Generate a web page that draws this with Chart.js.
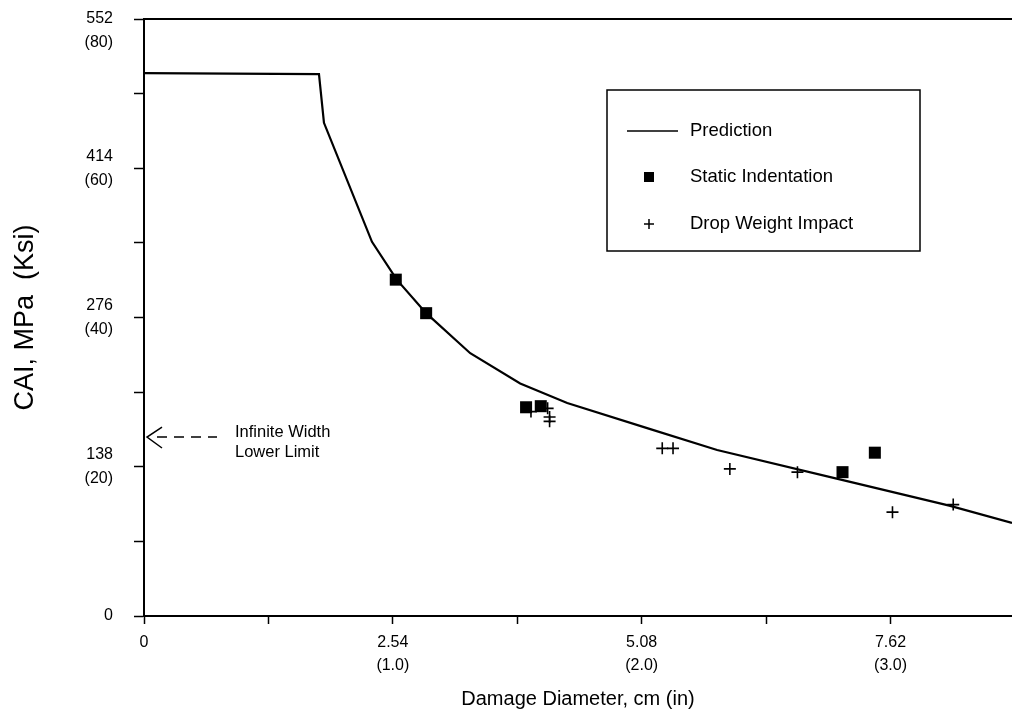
<!DOCTYPE html>
<html><head><meta charset="utf-8">
<script src="https://cdn.jsdelivr.net/npm/chart.js@4.4.0/dist/chart.umd.min.js"></script>
<style>html,body{margin:0;padding:0;background:#fff;}canvas{display:block;}</style>
</head><body>
<canvas id="c" width="1012" height="719"></canvas>
<script>
// ---- data (cm, MPa) ----
const predictionX = [0, 1.786, 1.837, 2.327, 2.58, 2.88, 3.33, 3.84, 4.32, 5.16, 5.85, 7.07, 8.22, 8.86];
const predictionY = [502, 501, 456, 346, 311, 280, 243, 215, 197, 173, 153.5, 127, 102, 86];
const staticX = [2.57, 2.88, 3.90, 4.05, 7.13, 7.46];
const staticY = [311, 280, 193, 194, 133, 151];
const dropX = [3.95, 4.12, 4.14, 4.14, 5.29, 5.40, 5.98, 6.67, 7.64, 8.26];
const dropY = [189, 192, 184, 180, 155, 155, 136, 133, 96, 103];
const infiniteWidthLowerLimit = 165.5;
const xTickValues = [0, 1.27, 2.54, 3.81, 5.08, 6.35, 7.62];
const xTickLabels = [['0'], [''], ['2.54', '(1.0)'], [''], ['5.08', '(2.0)'], [''], ['7.62', '(3.0)']];
const yTickValues = [0, 69, 138, 207, 276, 345, 414, 483, 552];
const yTickLabels = [['0'], [''], ['138', '(20)'], [''], ['276', '(40)'], [''], ['414', '(60)'], [''], ['', '552', '(80)']];
const xMax = 8.86, yMax = 552;
const seriesNames = ['Prediction', 'Static Indentation', 'Drop Weight Impact'];

const FONT = '"Liberation Sans", Arial, Helvetica, sans-serif';
Chart.defaults.font.family = FONT;
Chart.defaults.color = '#000';

const zip = (xs, ys) => xs.map((x, i) => ({x, y: ys[i]}));
const lookup = (vals, labels, v) => {
  const i = vals.findIndex(t => Math.abs(t - v) < 1e-6);
  return i < 0 ? '' : labels[i];
};

const extras = {
  id: 'extras',
  afterDatasetsDraw(chart) {
    const {ctx, chartArea: a, scales: {y}} = chart;
    ctx.save();
    // top frame line
    ctx.strokeStyle = '#000';
    ctx.lineWidth = 2;
    ctx.beginPath();
    ctx.moveTo(a.left, a.top);
    ctx.lineTo(a.right, a.top);
    ctx.stroke();

    // infinite width lower limit arrow
    const py = y.getPixelForValue(infiniteWidthLowerLimit);
    const tip = a.left + 3;
    ctx.lineWidth = 1.5;
    ctx.beginPath();
    ctx.moveTo(tip + 15, py - 10);
    ctx.lineTo(tip, py);
    ctx.lineTo(tip + 15, py + 11);
    ctx.stroke();
    ctx.setLineDash([10, 7]);
    ctx.beginPath();
    ctx.moveTo(tip + 10, py);
    ctx.lineTo(tip + 70, py);
    ctx.stroke();
    ctx.setLineDash([]);
    ctx.fillStyle = '#000';
    ctx.font = '16.5px ' + FONT;
    ctx.textAlign = 'left';
    ctx.textBaseline = 'middle';
    ctx.fillText('Infinite Width', tip + 88, py - 5);
    ctx.fillText('Lower Limit', tip + 88, py + 15);

    // legend box
    const bx = 607, by = 90, bw = 313, bh = 161;
    ctx.lineWidth = 1.5;
    ctx.strokeRect(bx, by, bw, bh);
    ctx.font = '18.5px ' + FONT;
    const rows = [131, 177, 224];
    const tx = 690;
    ctx.lineWidth = 1.5;
    ctx.beginPath();
    ctx.moveTo(627, rows[0]);
    ctx.lineTo(678, rows[0]);
    ctx.stroke();
    ctx.fillText(seriesNames[0], tx, rows[0]);
    ctx.fillRect(644, rows[1] - 5, 10, 10);
    ctx.fillText(seriesNames[1], tx, rows[1]);
    ctx.beginPath();
    ctx.moveTo(644, rows[2]); ctx.lineTo(654, rows[2]);
    ctx.moveTo(649, rows[2] - 5); ctx.lineTo(649, rows[2] + 5);
    ctx.stroke();
    ctx.fillText(seriesNames[2], tx, rows[2]);
    ctx.restore();
  }
};

new Chart(document.getElementById('c'), {
  type: 'scatter',
  data: {
    datasets: [
      {label: seriesNames[0], data: zip(predictionX, predictionY), showLine: true,
       borderColor: '#000', borderWidth: 2.2, pointRadius: 0, tension: 0, order: 3},
      {label: seriesNames[1], data: zip(staticX, staticY), pointStyle: 'rect',
       pointRadius: 8.5, backgroundColor: '#000', borderColor: '#000', borderWidth: 0, order: 1},
      {label: seriesNames[2], data: zip(dropX, dropY), pointStyle: 'cross',
       pointRadius: 6, borderColor: '#000', borderWidth: 1.6, order: 2}
    ]
  },
  options: {
    responsive: false,
    animation: false,
    devicePixelRatio: 1,
    layout: {autoPadding: false, padding: {top: 19, right: 0, bottom: 0, left: 0}},
    plugins: {legend: {display: false}, tooltip: {enabled: false}},
    scales: {
      x: {
        type: 'linear', min: 0, max: xMax,
        afterBuildTicks: s => { s.ticks = xTickValues.map(v => ({value: v})); },
        ticks: {callback: v => lookup(xTickValues, xTickLabels, v), font: {size: 16, lineHeight: 1.44},
                color: '#000', padding: 7.5, autoSkip: false, maxRotation: 0},
        grid: {drawOnChartArea: false, drawTicks: true, tickLength: 8, tickColor: '#000', tickWidth: 1.5},
        border: {display: true, color: '#000', width: 2},
        title: {display: true, text: 'Damage Diameter, cm (in)', font: {size: 20}, color: '#000',
                padding: {top: 0, bottom: 8}},
        afterFit: s => { s.height = 103; s.paddingLeft = 0; s.paddingRight = 0; }
      },
      y: {
        type: 'linear', min: 0, max: yMax,
        afterBuildTicks: s => { s.ticks = yTickValues.map(v => ({value: v})); },
        ticks: {callback: v => lookup(yTickValues, yTickLabels, v), font: {size: 16, lineHeight: 1.5},
                color: '#000', padding: 21, autoSkip: false},
        grid: {drawOnChartArea: false, drawTicks: true, tickLength: 10, tickColor: '#000', tickWidth: 1.5},
        border: {display: true, color: '#000', width: 2},
        title: {display: true, text: 'CAI, MPa  (Ksi)', font: {size: 27}, color: '#000',
                padding: {top: 9, bottom: 0}},
        afterFit: s => { s.width = 144; s.paddingTop = 0; s.paddingBottom = 0; }
      }
    }
  },
  plugins: [extras]
});
</script>
</body></html>
